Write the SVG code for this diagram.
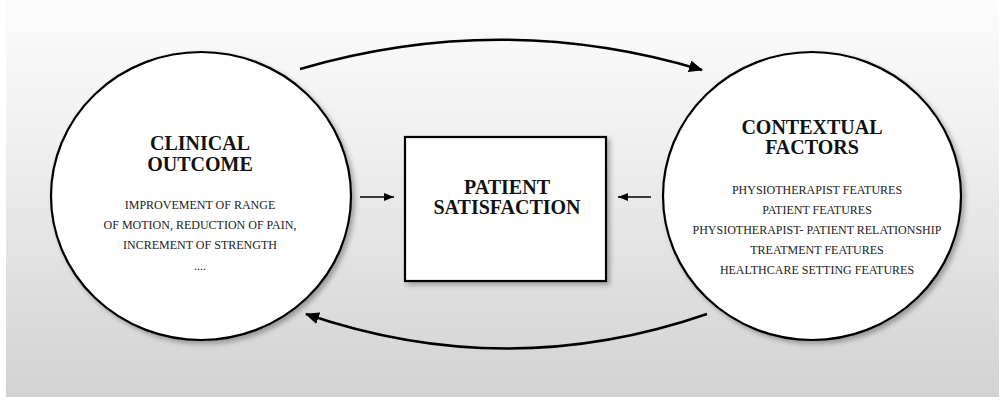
<svg xmlns="http://www.w3.org/2000/svg" width="1005" height="403" viewBox="0 0 1005 403">
<defs>
<linearGradient id="bg" x1="0" y1="0" x2="0" y2="1">
<stop offset="0" stop-color="#fcfcfc"/>
<stop offset="0.35" stop-color="#f0f0f0"/>
<stop offset="1" stop-color="#d2d2d2"/>
</linearGradient>
<filter id="sh" x="-10%" y="-10%" width="125%" height="125%">
<feDropShadow dx="3" dy="3" stdDeviation="2.5" flood-color="#000" flood-opacity="0.3"/>
</filter>
<marker id="big" viewBox="0 0 14 12" refX="13" refY="6" markerWidth="14" markerHeight="12" markerUnits="userSpaceOnUse" orient="auto">
<path d="M0,0 L14,6 L0,12 Z" fill="#000"/>
</marker>
<marker id="small" viewBox="0 0 10 8" refX="10" refY="4" markerWidth="10" markerHeight="8" markerUnits="userSpaceOnUse" orient="auto">
<path d="M0,0 L10,4 L0,8 Z" fill="#000"/>
</marker>
</defs>
<style>
.shape{fill:#fff;stroke:#000;stroke-width:2.2}
text{font-family:'Liberation Serif','Times New Roman','DejaVu Serif',serif;text-anchor:middle}
.title{font-weight:bold;font-size:20px;fill:#111}
.item{font-size:12px;fill:#222}
.conn{fill:none;stroke:#000;stroke-width:2.5}
.sconn{fill:none;stroke:#000;stroke-width:1.5}
</style>
<rect x="0" y="0" width="1005" height="403" fill="#fff"/>
<rect x="6" y="0" width="993" height="397" fill="url(#bg)"/>
<g id="clinical-outcome">
<ellipse class="shape" cx="201" cy="196" rx="150" ry="144" filter="url(#sh)"/>
<text class="title" x="200" y="150" font-family="Liberation Serif, DejaVu Serif, serif">CLINICAL</text>
<text class="title" x="200" y="171" font-family="Liberation Serif, DejaVu Serif, serif">OUTCOME</text>
<text class="item" x="200" y="209" font-family="Liberation Serif, DejaVu Serif, serif">IMPROVEMENT OF RANGE</text>
<text class="item" x="200" y="229" font-family="Liberation Serif, DejaVu Serif, serif">OF MOTION, REDUCTION OF PAIN,</text>
<text class="item" x="200" y="249" font-family="Liberation Serif, DejaVu Serif, serif">INCREMENT OF STRENGTH</text>
<text class="item" x="200" y="270" font-family="Liberation Serif, DejaVu Serif, serif">....</text>
</g>
<g id="patient-satisfaction">
<rect class="shape" x="405" y="137" width="201" height="144" filter="url(#sh)"/>
<text class="title" x="507" y="194" font-family="Liberation Serif, DejaVu Serif, serif">PATIENT</text>
<text class="title" x="507" y="214" font-family="Liberation Serif, DejaVu Serif, serif">SATISFACTION</text>
</g>
<g id="contextual-factors">
<ellipse class="shape" cx="812" cy="196" rx="149" ry="144" filter="url(#sh)"/>
<text class="title" x="812" y="134" font-family="Liberation Serif, DejaVu Serif, serif">CONTEXTUAL</text>
<text class="title" x="812" y="154" font-family="Liberation Serif, DejaVu Serif, serif">FACTORS</text>
<text class="item" x="817" y="194" font-family="Liberation Serif, DejaVu Serif, serif">PHYSIOTHERAPIST FEATURES</text>
<text class="item" x="817" y="214" font-family="Liberation Serif, DejaVu Serif, serif">PATIENT FEATURES</text>
<text class="item" x="817" y="234" font-family="Liberation Serif, DejaVu Serif, serif">PHYSIOTHERAPIST- PATIENT RELATIONSHIP</text>
<text class="item" x="817" y="254" font-family="Liberation Serif, DejaVu Serif, serif">TREATMENT FEATURES</text>
<text class="item" x="817" y="274" font-family="Liberation Serif, DejaVu Serif, serif">HEALTHCARE SETTING FEATURES</text>
</g>
<g id="connectors">
<path class="conn" d="M300,69 Q502,10 702,70" marker-end="url(#big)"/>
<path class="conn" d="M707,314 Q507,383 306,314" marker-end="url(#big)"/>
<path class="sconn" d="M360,197 L394,197" marker-end="url(#small)"/>
<path class="sconn" d="M651,197 L618,197" marker-end="url(#small)"/>
</g>
</svg>
